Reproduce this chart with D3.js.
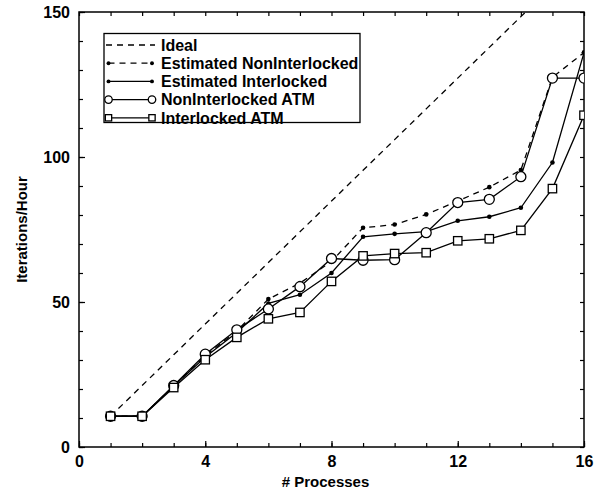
<!DOCTYPE html>
<html>
<head>
<meta charset="utf-8">
<script src="https://cdn.jsdelivr.net/npm/d3@7"></script>
<style>
  html, body { margin: 0; padding: 0; background: #fff; }
  svg { display: block; }
  text { font-family: "Liberation Sans", Arial, Helvetica, sans-serif; font-weight: bold; fill: #000; }
</style>
</head>
<body>
<svg id="chart" width="598" height="491"></svg>
<script>
// Throughput vs. number of processes
const processes = [1, 2, 3, 4, 5, 6, 7, 8, 9, 10, 11, 12, 13, 14, 15, 16];
const ideal = [10.6, 21.2, 31.8, 42.4, 53, 63.6, 74.2, 84.8, 95.4, 106, 116.6, 127.2, 137.8, 148.4, 159, 169.6];
const estNonInterlocked = [10.6, 10.6, 21, 31.5, 40, 51, 56.5, 64, 75.6, 76.7, 80.2, 84.8, 89.6, 95.5, 127.5, 136];
const estInterlocked = [10.6, 10.6, 21, 31, 39.5, 49.5, 52.5, 60, 72.5, 73.5, 74.3, 78, 79.4, 82.5, 98.1, 136];
const nonInterlockedATM = [10.6, 10.6, 21.2, 32, 40.4, 47.6, 55.3, 65, 64.4, 64.6, 73.9, 84.3, 85.4, 93.2, 127.2, 127.2];
const interlockedATM = [10.6, 10.6, 20.5, 30.1, 37.8, 44.2, 46.4, 57.1, 65.9, 66.7, 67, 71.1, 71.8, 74.7, 89.1, 114.4];

const xMajorTicks = [0, 4, 8, 12, 16];
const yMajorTicks = [0, 50, 100, 150];
const xTitle = "# Processes";
const yTitle = "Iterations/Hour";

const series = [
  { name: "Ideal", values: ideal, dash: "6,5", marker: "none" },
  { name: "Estimated NonInterlocked", values: estNonInterlocked, dash: "6,5", marker: "dot" },
  { name: "Estimated Interlocked", values: estInterlocked, dash: null, marker: "dot" },
  { name: "NonInterlocked ATM", values: nonInterlockedATM, dash: null, marker: "circle" },
  { name: "Interlocked ATM", values: interlockedATM, dash: null, marker: "square" }
];

const svg = d3.select("#chart");
const L = 79, R = 584, T = 12, B = 447;

const x = d3.scaleLinear().domain([0, 16]).range([L, R]);
const y = d3.scaleLinear().domain([0, 150]).range([B, T]);

svg.append("defs").append("clipPath").attr("id", "plotClip")
  .append("rect").attr("x", L).attr("y", T).attr("width", R - L).attr("height", B - T);

// Axes with inward ticks
function styleAxis(g) {
  g.select(".domain").remove();
  g.selectAll("line").attr("stroke", "#000").attr("stroke-width", 1.2);
  g.selectAll("text").attr("font-size", 16).attr("font-weight", "bold")
    .attr("font-family", "'Liberation Sans', Arial, sans-serif");
}
const xMinor = d3.range(0, 17, 1);
const yMinor = d3.range(0, 151, 10);

svg.append("g").attr("transform", `translate(0,${B})`)
  .call(d3.axisBottom(x).tickValues(xMinor).tickSize(-4).tickFormat(""))
  .call(styleAxis);
svg.append("g").attr("transform", `translate(0,${B})`)
  .call(d3.axisBottom(x).tickValues(xMajorTicks).tickSize(-6).tickPadding(9).tickFormat(d3.format("d")))
  .call(styleAxis);
svg.append("g").attr("transform", `translate(0,${T})`)
  .call(d3.axisTop(x).tickValues(xMinor).tickSize(-4).tickFormat(""))
  .call(styleAxis);
svg.append("g").attr("transform", `translate(${L},0)`)
  .call(d3.axisLeft(y).tickValues(yMinor).tickSize(-4).tickFormat(""))
  .call(styleAxis);
svg.append("g").attr("transform", `translate(${L},0)`)
  .call(d3.axisLeft(y).tickValues(yMajorTicks).tickSize(-6).tickPadding(9).tickFormat(d3.format("d")))
  .call(styleAxis);
svg.append("g").attr("transform", `translate(${R},0)`)
  .call(d3.axisRight(y).tickValues(yMinor).tickSize(-4).tickFormat(""))
  .call(styleAxis);

// Frame
svg.append("rect").attr("x", L).attr("y", T).attr("width", R - L).attr("height", B - T)
  .attr("fill", "none").attr("stroke", "#000").attr("stroke-width", 1.5);

// Axis titles
svg.append("text").attr("x", (L + R) / 2 - 6).attr("y", 487)
  .attr("text-anchor", "middle").attr("font-size", 15).text(xTitle);
svg.append("text").attr("transform", `translate(27,${(T + B) / 2}) rotate(-90)`)
  .attr("text-anchor", "middle").attr("font-size", 15).text(yTitle);

// Series
const line = d3.line().x((d, i) => x(processes[i])).y(d => y(d));
const plot = svg.append("g").attr("clip-path", "url(#plotClip)");

function drawMarker(g, type, cx, cy, scale) {
  const k = scale || 1;
  if (type === "dot") {
    g.append("circle").attr("cx", cx).attr("cy", cy).attr("r", 2.3 * Math.max(k, 0.85)).attr("fill", "#000");
  } else if (type === "circle") {
    g.append("circle").attr("cx", cx).attr("cy", cy).attr("r", 5 * k)
      .attr("fill", "#fff").attr("stroke", "#000").attr("stroke-width", 1.3);
  } else if (type === "square") {
    const h = 4.2 * k;
    g.append("rect").attr("x", cx - h).attr("y", cy - h).attr("width", 2 * h).attr("height", 2 * h)
      .attr("fill", "#fff").attr("stroke", "#000").attr("stroke-width", 1.3);
  }
}

series.forEach(s => {
  plot.append("path").datum(s.values).attr("d", line)
    .attr("fill", "none").attr("stroke", "#000").attr("stroke-width", 1.3)
    .attr("stroke-dasharray", s.dash);
});
series.forEach(s => {
  const mg = plot.append("g");
  s.values.forEach((v, i) => drawMarker(mg, s.marker, x(processes[i]), y(v)));
});

// Legend
const lg = svg.append("g");
const lx = 104, ly = 33.5, lw = 256, lh = 89;
lg.append("rect").attr("x", lx).attr("y", ly).attr("width", lw).attr("height", lh)
  .attr("fill", "#fff").attr("stroke", "#000").attr("stroke-width", 1.3);
series.forEach((s, i) => {
  const cy = 45 + i * 18.2;
  const x0 = 108.5, x1 = 152;
  lg.append("line").attr("x1", s.marker === "none" ? 106 : x0).attr("x2", s.marker === "none" ? 155 : x1)
    .attr("y1", cy).attr("y2", cy)
    .attr("stroke", "#000").attr("stroke-width", 1.3).attr("stroke-dasharray", s.dash);
  drawMarker(lg, s.marker, x0, cy, 0.75);
  drawMarker(lg, s.marker, x1, cy, 0.75);
  lg.append("text").attr("x", 161).attr("y", cy).attr("dy", "0.36em")
    .attr("font-size", 16).text(s.name);
});
</script>
</body>
</html>
